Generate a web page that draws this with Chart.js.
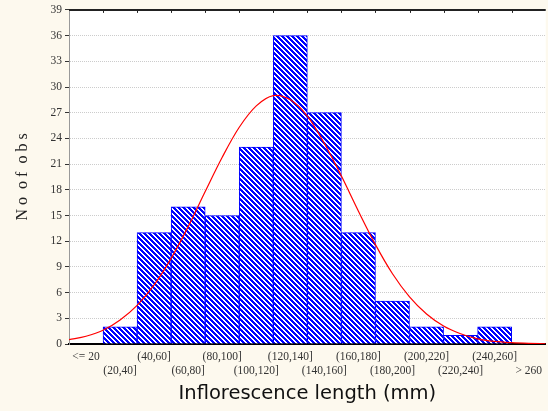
<!DOCTYPE html>
<html>
<head>
<meta charset="utf-8">
<script src="https://cdn.jsdelivr.net/npm/chart.js@4.4.1/dist/chart.umd.min.js"></script>
<style>
    html, body { margin: 0; padding: 0; background: #fdf9ee; }
    #wrap { width: 548px; height: 411px; }
</style>
</head>
<body>
<div id="wrap"><canvas id="histChart"></canvas></div>
<script>
// bins of inflorescence length
const categories = ['<= 20', '(20,40]', '(40,60]', '(60,80]', '(80,100]', '(100,120]', '(120,140]',
    '(140,160]', '(160,180]', '(180,200]', '(200,220]', '(220,240]', '(240,260]', '> 260'];
const counts = [0, 2, 13, 16, 15, 23, 36, 27, 13, 5, 2, 1, 2, 0];

// expected normal curve (x in bin units, bin centres at 0..13)
const curveX = [-0.5, 0, 0.5, 1, 1.5, 2, 2.5, 3, 3.5, 4, 4.5, 5, 5.5, 6, 6.5, 7, 7.5,
    8, 8.5, 9, 9.5, 10, 10.5, 11, 11.5, 12, 12.5, 13, 13.5];
const curveY = [0.5, 0.9, 1.6, 2.8, 4.5, 6.9, 10.0, 13.7, 17.8, 21.8, 25.3, 27.8, 29.0, 28.5, 26.6,
    23.4, 19.6, 15.5, 11.6, 8.2, 5.5, 3.5, 2.1, 1.2, 0.6, 0.3, 0.15, 0.07, 0.03];

const yTicks = [0, 3, 6, 9, 12, 15, 18, 21, 24, 27, 30, 33, 36, 39];

function makeHatch() {
    const c = document.createElement('canvas');
    c.width = 5;
    c.height = 5;
    const g = c.getContext('2d');
    g.fillStyle = '#ffffff';
    g.fillRect(0, 0, 5, 5);
    g.fillStyle = '#0000ff';
    for (let y = 0; y < 5; y++) {
        for (let x = 0; x < 5; x++) {
            const d = ((x - y) % 5 + 5) % 5;
            if (d <= 2) g.fillRect(x, y, 1, 1);
        }
    }
    return document.getElementById('histChart').getContext('2d').createPattern(c, 'repeat');
}

const plotFrame = {
    id: 'plotFrame',
    beforeDraw(chart) {
        const { ctx, chartArea: a } = chart;
        ctx.save();
        ctx.fillStyle = '#ffffff';
        ctx.fillRect(a.left, a.top, a.right - a.left, a.bottom - a.top);
        ctx.restore();
    },
    afterDraw(chart) {
        const { ctx, chartArea: a } = chart;
        const xs = chart.scales.x;
        ctx.save();
        ctx.strokeStyle = '#222';
        ctx.lineWidth = 2;
        ctx.beginPath();
        ctx.moveTo(a.left, a.top);
        ctx.lineTo(a.right, a.top);
        ctx.stroke();
        ctx.lineWidth = 1;
        ctx.beginPath();
        const w = xs.getPixelForValue(1) - xs.getPixelForValue(0);
        for (let i = 1; i < categories.length; i++) {
            const px = Math.round(xs.getPixelForValue(i) - w / 2) + 0.5;
            ctx.moveTo(px, a.top);
            ctx.lineTo(px, a.top + 3);
        }
        ctx.stroke();
        ctx.restore();
    }
};

const serif = { family: '"Liberation Serif", "Times New Roman", serif', size: 11.5 };

new Chart(document.getElementById('histChart'), {
    type: 'bar',
    data: {
        labels: categories,
        datasets: [{
            data: counts,
            xAxisID: 'x',
            backgroundColor: makeHatch(),
            borderColor: '#0000ff',
            borderWidth: 1,
            borderSkipped: 'bottom',
            grouped: false,
            barPercentage: 1,
            categoryPercentage: 1,
            order: 2
        }, {
            type: 'line',
            data: curveX.map((x, i) => ({ x: x, y: curveY[i] })),
            xAxisID: 'xc',
            borderColor: '#ff0000',
            borderWidth: 1.2,
            pointRadius: 0,
            tension: 0.35,
            fill: false,
            order: 1
        }]
    },
    options: {
        responsive: true,
        maintainAspectRatio: false,
        animation: false,
        layout: { padding: { top: 9, right: 0, left: 0, bottom: 0 } },
        plugins: {
            legend: { display: false },
            tooltip: { enabled: false }
        },
        scales: {
            x: {
                type: 'category',
                offset: true,
                grid: { display: false, drawTicks: false },
                border: { display: true, color: '#000', width: 2 },
                ticks: {
                    autoSkip: false,
                    maxRotation: 0,
                    padding: 6,
                    color: '#333',
                    font: serif,
                    callback: (v, i) => i % 2 ? ['', categories[i]] : categories[i]
                },
                title: {
                    display: true,
                    text: 'Inflorescence length (mm)',
                    color: '#111',
                    font: { family: '"DejaVu Sans", sans-serif', size: 19.5 },
                    padding: { top: 4, bottom: 5 }
                },
                afterFit: (s) => { s.height = 67; }
            },
            xc: {
                type: 'linear',
                display: false,
                min: -0.5,
                max: 13.5,
                offset: false
            },
            y: {
                min: 0,
                max: 39,
                afterBuildTicks: (s) => { s.ticks = yTicks.map(v => ({ value: v })); },
                grid: {
                    color: (c) => (c.tick && (c.tick.value === 0 || c.tick.value === 39)) ? 'rgba(0,0,0,0)' : '#cccccc',
                    tickColor: '#333',
                    tickLength: 4,
                    lineWidth: 1
                },
                border: { display: true, color: '#999', width: 1, dash: [1, 1] },
                ticks: { padding: 3, color: '#333', font: serif },
                title: {
                    display: true,
                    text: 'N o  o f  o b s',
                    color: '#222',
                    font: { family: '"Liberation Serif", serif', size: 16 },
                    padding: { top: 13, bottom: 0 }
                },
                afterFit: (s) => { s.width = 69; }
            }
        }
    },
    plugins: [plotFrame]
});
</script>
</body>
</html>
